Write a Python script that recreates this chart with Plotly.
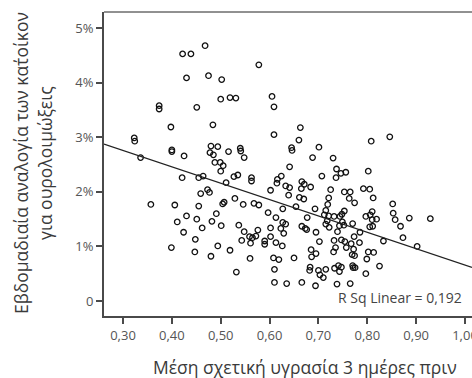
import plotly.graph_objects as go

# Mean relative humidity 3 days before (x) and weekly UTI home-visit proportion in % (y)
humidity = [0.422,0.439,0.468,0.578,0.430,0.475,0.502,0.500,0.519,0.531,
0.605,0.609,0.374,0.374,0.451,0.398,0.484,0.609,0.323,0.324,
0.480,0.494,0.540,0.541,0.400,0.400,0.663,0.660,0.701,0.645,
0.646,0.808,0.846,0.336,0.425,0.478,0.485,0.516,0.548,0.688,
0.730,0.488,0.499,0.505,0.500,0.421,0.455,0.464,0.527,0.535,
0.563,0.563,0.511,0.615,0.616,0.624,0.602,0.473,0.477,0.459,
0.641,0.737,0.746,0.756,0.736,0.707,0.802,0.633,0.641,0.639,
0.666,0.671,0.665,0.684,0.661,0.670,0.725,0.721,0.753,0.765,
0.763,0.774,0.792,0.805,0.812,0.852,0.357,0.406,0.455,0.507,
0.504,0.529,0.546,0.568,0.578,0.627,0.654,0.693,0.719,0.597,
0.613,0.677,0.430,0.451,0.411,0.491,0.482,0.537,0.501,0.462,
0.424,0.548,0.576,0.559,0.565,0.572,0.561,0.543,0.602,0.590,
0.590,0.602,0.613,0.626,0.627,0.633,0.623,0.629,0.666,0.673,
0.676,0.695,0.702,0.685,0.695,0.686,0.650,0.608,0.619,0.560,
0.448,0.399,0.447,0.494,0.519,0.480,0.715,0.712,0.721,0.718,
0.715,0.722,0.732,0.744,0.753,0.748,0.749,0.743,0.752,0.770,
0.739,0.732,0.735,0.731,0.747,0.754,0.757,0.767,0.772,0.769,
0.774,0.773,0.784,0.785,0.797,0.806,0.810,0.810,0.819,0.805,
0.811,0.853,0.857,0.868,0.886,0.929,0.833,0.873,0.902,0.802,
0.813,0.799,0.825,0.797,0.610,0.532,0.610,0.635,0.666,0.694,
0.738,0.765,0.683,0.682,0.700,0.703,0.710,0.715,0.733,0.741,
0.747,0.743,0.770,0.771,0.775]

uti_pct = [4.53,4.53,4.68,4.33,4.09,4.13,4.06,3.70,3.73,3.72,
3.75,3.56,3.58,3.52,3.55,3.19,3.23,3.05,2.99,2.93,
2.84,2.83,2.80,2.75,2.77,2.74,3.18,2.95,2.82,2.81,
2.76,2.93,3.01,2.63,2.66,2.72,2.68,2.74,2.63,2.63,
2.62,2.54,2.54,2.48,2.38,2.26,2.26,2.29,2.28,2.31,
2.26,2.20,2.17,2.16,2.23,2.29,2.03,2.04,1.99,1.97,
2.46,2.42,2.34,2.36,2.26,2.29,2.38,2.11,2.08,1.94,
2.19,2.14,2.06,2.09,1.90,1.87,2.04,1.89,2.00,2.00,
1.88,1.80,2.06,2.05,1.89,1.78,1.77,1.76,1.74,1.81,
1.78,1.88,1.77,1.79,1.76,1.69,1.73,1.69,1.77,1.62,
1.53,1.53,1.56,1.50,1.45,1.60,1.46,1.39,1.38,1.34,
1.26,1.27,1.30,1.18,1.16,1.19,1.06,1.11,1.34,1.10,
1.04,1.18,1.07,1.01,1.44,1.41,1.33,1.24,1.37,1.33,
1.31,1.26,1.09,0.94,0.87,0.81,0.79,0.79,0.76,0.78,
1.13,0.98,0.90,1.01,0.93,0.82,1.66,1.58,1.56,1.47,
1.41,1.35,1.55,1.55,1.65,1.59,1.45,1.38,1.39,1.42,
1.27,1.11,0.98,0.90,1.12,1.09,0.98,1.05,0.95,0.85,
0.83,1.18,1.07,1.26,1.55,1.58,1.64,1.49,1.50,1.36,
1.37,1.61,1.49,1.37,1.52,1.51,1.10,1.16,1.00,0.90,
0.89,0.77,0.64,0.50,0.58,0.53,0.34,0.32,0.34,0.28,
0.31,0.32,0.62,0.56,0.56,0.48,0.43,0.58,0.60,0.65,
0.62,0.54,0.65,0.61,0.61]

fit_intercept = 3.66
fit_slope = -3.00
r_sq_text = "R Sq Linear = 0,192"

x_tickvals = [0.30, 0.40, 0.50, 0.60, 0.70, 0.80, 0.90, 1.00]
x_ticktext = ["0,30", "0,40", "0,50", "0,60", "0,70", "0,80", "0,90", "1,00"]
y_tickvals = [0, 1, 2, 3, 4, 5]
y_ticktext = ["0", "1%", "2%", "3%", "4%", "5%"]

x_title = "Μέση σχετική υγρασία 3 ημέρες πριν"
y_title_1 = "Εβδομαδιαία αναλογία των κατ΄οίκον"
y_title_2 = "για ουρολοιμώξεις"

x_range = [0.2611, 1.0143]
y_range = [-0.275, 5.298]

FONT = "Open Sans"
AX = "#4a4a4a"

fig = go.Figure()
fig.add_trace(go.Scatter(
    x=humidity, y=uti_pct, mode="markers",
    marker=dict(symbol="circle-open", size=5.5, color="#111111",
                line=dict(width=1.3, color="#111111")),
    hoverinfo="skip", showlegend=False))

fit_x = [x_range[0], x_range[1]]
fit_y = [fit_intercept + fit_slope * v for v in fit_x]
fig.add_trace(go.Scatter(
    x=fit_x, y=fit_y, mode="lines",
    line=dict(color="#222222", width=1.2),
    hoverinfo="skip", showlegend=False))

fig.update_layout(
    width=472, height=378,
    margin=dict(l=104, r=0, t=12, b=62, autoexpand=False),
    paper_bgcolor="white", plot_bgcolor="white",
    font=dict(family=FONT, size=13, color="#555555"),
    xaxis=dict(range=x_range, tickvals=x_tickvals, ticktext=x_ticktext,
               showgrid=False, zeroline=False, showline=True, automargin=False,
               linecolor=AX, linewidth=2, ticks="outside", ticklen=6,
               tickwidth=1.5, tickcolor=AX, ticklabeloverflow="allow",
               tickfont=dict(family=FONT, size=13, color="#555555")),
    yaxis=dict(range=y_range, tickvals=y_tickvals, ticktext=y_ticktext,
               showgrid=False, zeroline=False, showline=True, automargin=False,
               linecolor=AX, linewidth=2, ticks="outside", ticklen=6,
               tickwidth=1.5, tickcolor=AX,
               tickfont=dict(family=FONT, size=13, color="#555555")),
    shapes=[dict(type="line", xref="paper", yref="paper", x0=0, x1=1, y0=1, y1=1,
                 line=dict(color="#222222", width=1))],
)

fig.add_annotation(text=r_sq_text, xref="paper", yref="paper",
                   x=(464 - 104) / 368, y=(316 - 297) / 304,
                   xanchor="right", yanchor="middle", showarrow=False,
                   font=dict(family=FONT, size=14, color="#444444"))
fig.add_annotation(text=x_title, xref="paper", yref="paper",
                   x=(305 - 104) / 368, y=-(367 - 316) / 304,
                   xanchor="center", yanchor="middle", showarrow=False,
                   font=dict(family=FONT, size=17.5, color="#3a3a3a"))
fig.add_annotation(text=y_title_1, xref="paper", yref="paper",
                   x=-(104 - 21) / 368, y=(316 - 163) / 304,
                   xanchor="center", yanchor="middle", showarrow=False, textangle=-90,
                   font=dict(family=FONT, size=17.5, color="#3a3a3a"))
fig.add_annotation(text=y_title_2, xref="paper", yref="paper",
                   x=-(104 - 45) / 368, y=(316 - 163) / 304,
                   xanchor="center", yanchor="middle", showarrow=False, textangle=-90,
                   font=dict(family=FONT, size=17.5, color="#3a3a3a"))

fig.write_html("out.html", config={"displayModeBar": False},
               post_script="document.body.style.margin='0';document.body.style.overflow='hidden';")
